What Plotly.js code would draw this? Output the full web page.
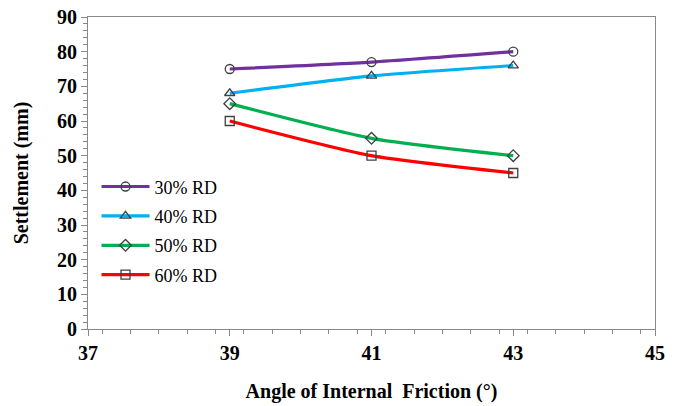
<!DOCTYPE html>
<html><head><meta charset="utf-8">
<script src="https://cdn.plot.ly/plotly-3.0.1.min.js"></script>
<style>body{margin:0;padding:0;background:#fff}</style>
</head><body>
<div id="chart" style="width:674px;height:406px"></div>
<script>
var angles = [39, 41, 43];
var rd30 = [75, 77, 80];
var rd40 = [68, 73, 76];
var rd50 = [65, 55, 50];
var rd60 = [60, 50, 45];
var names = ["30% RD", "40% RD", "50% RD", "60% RD"];
var colors = ["#7030A0", "#00B0F0", "#00B050", "#FF0000"];
var symbols = ["circle-open", "triangle-up-open", "diamond-open", "square-open"];
var series = [rd30, rd40, rd50, rd60];
var FAM = "Times New Roman";

var traces = series.map(function(s, i) {
  return {
    x: angles, y: s, name: names[i], legendgroup: "g" + i, type: "scatter", mode: "lines+markers",
    line: {color: colors[i], width: 3.2, shape: "spline", smoothing: 0.6},
    marker: {symbol: symbols[i], size: 9, color: "#404040", line: {width: 1.3, color: "#404040"}}
  };
});

var layout = {
  width: 674, height: 406,
  margin: {l: 88, r: 19, t: 17, b: 77},
  paper_bgcolor: "#fff", plot_bgcolor: "#fff",
  font: {family: FAM, color: "#000"},
  showlegend: true,
  legend: {x: 0.015, y: 0.515, xanchor: "left", yanchor: "top", bgcolor: "rgba(0,0,0,0)",
    font: {size: 18, color: "#000", family: FAM}, itemwidth: 48, tracegroupgap: 3},
  xaxis: {
    range: [37, 45], tickvals: [37, 39, 41, 43, 45], ticktext: ["37","39","41","43","45"],
    ticks: "outside", ticklen: 6, tickcolor: "#888", showgrid: false, zeroline: false,
    showline: true, linecolor: "#888", linewidth: 1, mirror: true,
    tickfont: {size: 20, family: FAM, weight: "bold"},
    minor: {dtick: 0.4, ticks: "outside", ticklen: 4, tickcolor: "#888"},
    title: {text: "<b>Angle of Internal  Friction (°)</b>", font: {size: 20, family: FAM}, standoff: 20}
  },
  yaxis: {
    range: [0, 90], dtick: 10, ticks: "outside", ticklen: 6, tickcolor: "#888",
    showgrid: false, zeroline: false, showline: true, linecolor: "#888", linewidth: 1, mirror: true,
    tickfont: {size: 20, family: FAM, weight: "bold"},
    minor: {dtick: 2, ticks: "outside", ticklen: 4, tickcolor: "#888"},
    title: {text: "<b>Settlement (mm)</b>", font: {size: 20, family: FAM}, standoff: 23}
  }
};
Plotly.newPlot("chart", traces, layout, {displayModeBar: false});
</script>
</body></html>
